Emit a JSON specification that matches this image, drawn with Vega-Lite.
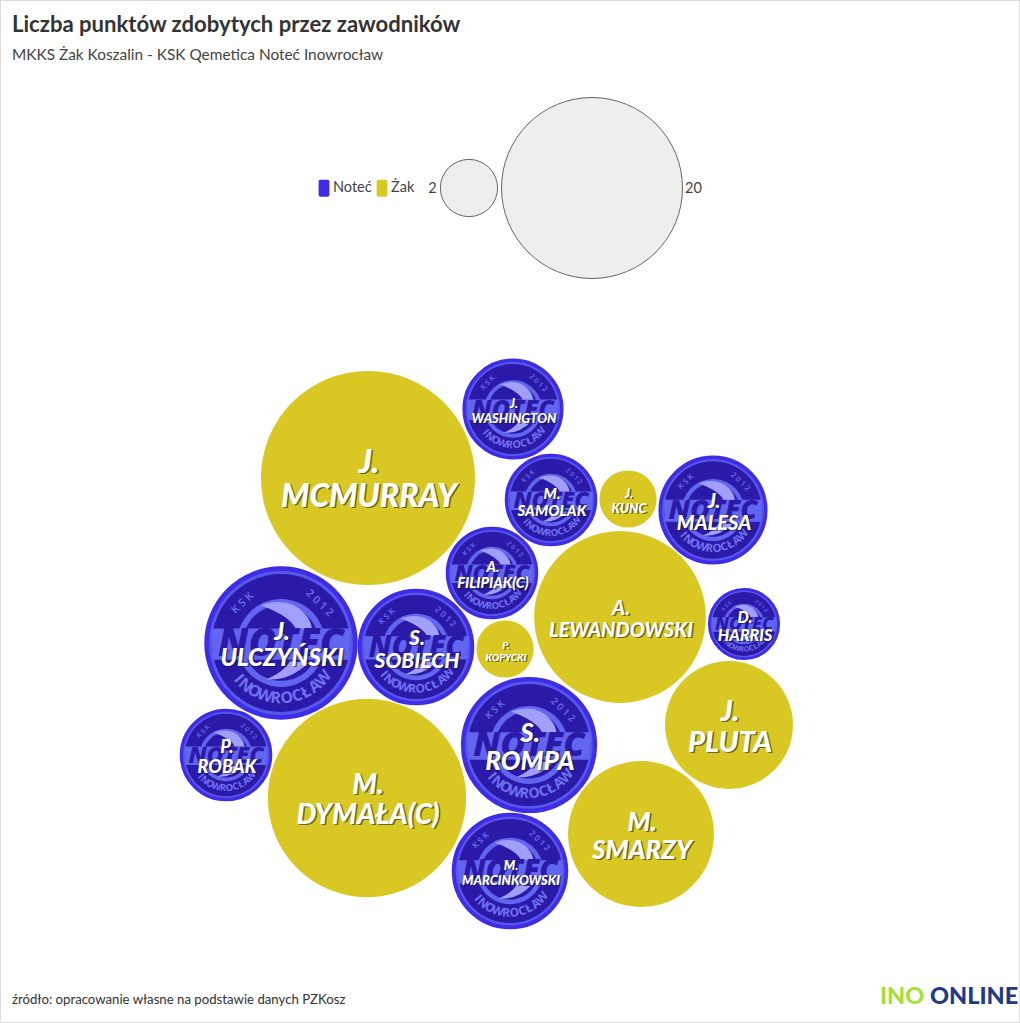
{"$schema":"https://vega.github.io/schema/vega-lite/v6.json","width":1020,"height":1023,"padding":0,"autosize":{"type":"none"},"background":"white","config":{"view":{"stroke":"#dcdcdc","strokeWidth":2},"font":"Lato"},
"title":{"text":"Liczba punktów zdobytych przez zawodników","subtitle":"MKKS Żak Koszalin - KSK Qemetica Noteć Inowrocław","anchor":"start","frame":"group","dx":12,"offset":-64,"font":"Lato","fontSize":22.1,"fontWeight":"bold","color":"#333333","subtitleFont":"Lato","subtitleFontSize":15.4,"subtitleColor":"#444444","subtitlePadding":11},
"datasets":{"players":[
{"name":"J.\nMCMURRAY","team":"Żak","points":28,"x":368,"y":478},
{"name":"A.\nLEWANDOWSKI","team":"Żak","points":18,"x":620,"y":617},
{"name":"M.\nDYMAŁA(C)","team":"Żak","points":24,"x":367,"y":798},
{"name":"M.\nSMARZY","team":"Żak","points":13,"x":641,"y":834},
{"name":"J.\nPLUTA","team":"Żak","points":10,"x":729,"y":725},
{"name":"J.\nKUNC","team":"Żak","points":2,"x":628,"y":499},
{"name":"P.\nKOPYCKI","team":"Żak","points":2,"x":505,"y":649},
{"name":"J.\nWASHINGTON","team":"Noteć","points":6,"x":513,"y":409},
{"name":"M.\nSAMOLAK","team":"Noteć","points":5,"x":551,"y":500},
{"name":"J.\nMALESA","team":"Noteć","points":7,"x":713,"y":510},
{"name":"A.\nFILIPIAK(C)","team":"Noteć","points":5,"x":492,"y":573},
{"name":"D.\nHARRIS","team":"Noteć","points":3,"x":744,"y":624},
{"name":"J.\nULCZYŃSKI","team":"Noteć","points":14,"x":281,"y":643},
{"name":"S.\nSOBIECH","team":"Noteć","points":8,"x":416,"y":647},
{"name":"P.\nROBAK","team":"Noteć","points":5,"x":226,"y":755},
{"name":"S.\nROMPA","team":"Noteć","points":11,"x":529,"y":745},
{"name":"M.\nMARCINKOWSKI","team":"Noteć","points":8,"x":510,"y":871}],
"sizeKey":[{"value":2,"x":469,"y":188,"labelX":432.5},{"value":20,"x":592,"y":188,"labelX":693.5}],
"notes":[{"text":"źródło: opracowanie własne na podstawie danych PZKosz","x":12,"y":1000}],
"brand":[{"text":"INO","x":880,"y":997},{"text":"ONLINE","x":930,"y":997}]},
"data":{"name":"players"},
"encoding":{"x":{"field":"x","type":"quantitative","scale":{"domain":[0,1020],"nice":false,"zero":false},"axis":null},"y":{"field":"y","type":"quantitative","scale":{"domain":[1023,0],"nice":false,"zero":false},"axis":null}},
"layer":[
{"transform":[{"filter":"datum.team==='Noteć'"}],"mark":{"type":"point","shape":"circle","filled":true,"opacity":1,"fill":"#3f2ce6","stroke":"#3f2ce6","strokeWidth":2},"encoding":{"size":{"field":"points","type":"quantitative","legend":null,"scale":{"domain":[0,20],"range":[0,32761]}}}},
{"mark":{"type":"point","shape":"circle","filled":true,"opacity":1},"encoding":{"size":{"field":"points","type":"quantitative","legend":null,"scale":{"domain":[0,20],"range":[0,32761]}},"color":{"field":"team","type":"nominal","scale":{"domain":["Noteć","Żak"],"range":["#3f2ce6","#d9c823"]},"legend":{"orient":"none","legendX":315,"legendY":179,"direction":"horizontal","columns":2,"title":null,"symbolType":"M-.6,-.75Q-.6,-.95 -.4,-.95L.4,-.95Q.6,-.95 .6,-.75L.6,.75Q.6,.95 .4,.95L-.4,.95Q-.6,.95 -.6,.75Z","symbolSize":324,"symbolStrokeWidth":0,"labelFont":"Lato","labelFontSize":14.5,"labelColor":"#444444","labelOffset":0,"columnPadding":1,"padding":0}}}},
{"transform":[{"filter":"datum.team==='Noteć'"}],"mark":{"type":"point","filled":true,"opacity":1,"fill":"#5558ea","shape":"M-.95,0C-.95,-.525 -.525,-.95 0,-.95C.525,-.95 .95,-.525 .95,0C.95,.525 .525,.95 0,.95C-.525,.95 -.95,.525 -.95,0Z"},"encoding":{"size":{"field":"points","type":"quantitative","legend":null,"scale":{"domain":[0,20],"range":[0,32761]}}}},
{"transform":[{"filter":"datum.team==='Noteć'"}],"mark":{"type":"point","filled":true,"opacity":1,"fill":"#2b1aa8","shape":"M-.91,0C-.91,-.503 -.503,-.91 0,-.91C.503,-.91 .91,-.503 .91,0C.91,.503 .503,.91 0,.91C-.503,.91 -.91,.503 -.91,0Z"},"encoding":{"size":{"field":"points","type":"quantitative","legend":null,"scale":{"domain":[0,20],"range":[0,32761]}}}},
{"transform":[{"filter":"datum.team==='Noteć'"}],"mark":{"type":"point","filled":true,"opacity":1,"fill":"#6265f0","shape":"M-.58,0C-.58,-.32 -.32,-.58 0,-.58C.32,-.58 .58,-.32 .58,0C.58,.32 .32,.58 0,.58C-.32,.58 -.58,.32 -.58,0Z"},"encoding":{"size":{"field":"points","type":"quantitative","legend":null,"scale":{"domain":[0,20],"range":[0,32761]}}}},
{"transform":[{"filter":"datum.team==='Noteć'"}],"mark":{"type":"point","filled":true,"opacity":1,"fill":"#2b1aa8","shape":"M-.5,0C-.5,-.276 -.276,-.5 0,-.5C.276,-.5 .5,-.276 .5,0C.5,.276 .276,.5 0,.5C-.276,.5 -.5,.276 -.5,0Z"},"encoding":{"size":{"field":"points","type":"quantitative","legend":null,"scale":{"domain":[0,20],"range":[0,32761]}}}},
{"transform":[{"filter":"datum.team==='Noteć'"}],"mark":{"type":"point","filled":true,"opacity":1,"fill":"#a0a0fa","shape":"M-.27,-.5Q.1,-.62 .3,-.4Q.4,-.3 .41,-.18L.2,-.18Q.12,-.36 -.27,-.5ZM-.19,.48Q.12,.5 .36,.26L.12,.24Q.04,.38 -.19,.48Z"},"encoding":{"size":{"field":"points","type":"quantitative","legend":null,"scale":{"domain":[0,20],"range":[0,32761]}}}},
{"transform":[{"filter":"datum.team==='Noteć'"}],"mark":{"type":"point","filled":true,"opacity":1,"fill":"#6265f0","shape":"M-.92,-.19L.92,-.19L.9,.22L-.9,.22Z"},"encoding":{"size":{"field":"points","type":"quantitative","legend":null,"scale":{"domain":[0,20],"range":[0,32761]}}}},
{"transform":[{"filter":"datum.team==='Noteć'"}],"mark":{"type":"text","text":"NOTEĆ","font":"Open Sans","fontWeight":800,"fontStyle":"italic","color":"#2b1aa8","align":"center","baseline":"middle","dy":1},"encoding":{"size":{"field":"points","type":"quantitative","legend":null,"scale":{"type":"sqrt","domain":[0,20],"range":[0,46]}}}},
{"transform":[{"filter":"datum.team==='Noteć'"}],"mark":{"type":"text","text":"I","angle":50,"font":"Open Sans","fontWeight":700,"color":"#6f71ee","align":"center","baseline":"middle"},"encoding":{"size":{"field":"points","type":"quantitative","legend":null,"scale":{"type":"sqrt","domain":[0,20],"range":[0,19]}},"radius":{"field":"points","type":"quantitative","scale":{"type":"sqrt","domain":[0,20],"range":[0,66]}},"theta":{"value":4.014}}},
{"transform":[{"filter":"datum.team==='Noteć'"}],"mark":{"type":"text","text":"N","angle":40,"font":"Open Sans","fontWeight":700,"color":"#6f71ee","align":"center","baseline":"middle"},"encoding":{"size":{"field":"points","type":"quantitative","legend":null,"scale":{"type":"sqrt","domain":[0,20],"range":[0,19]}},"radius":{"field":"points","type":"quantitative","scale":{"type":"sqrt","domain":[0,20],"range":[0,66]}},"theta":{"value":3.84}}},
{"transform":[{"filter":"datum.team==='Noteć'"}],"mark":{"type":"text","text":"O","angle":29,"font":"Open Sans","fontWeight":700,"color":"#6f71ee","align":"center","baseline":"middle"},"encoding":{"size":{"field":"points","type":"quantitative","legend":null,"scale":{"type":"sqrt","domain":[0,20],"range":[0,19]}},"radius":{"field":"points","type":"quantitative","scale":{"type":"sqrt","domain":[0,20],"range":[0,66]}},"theta":{"value":3.648}}},
{"transform":[{"filter":"datum.team==='Noteć'"}],"mark":{"type":"text","text":"W","angle":17,"font":"Open Sans","fontWeight":700,"color":"#6f71ee","align":"center","baseline":"middle"},"encoding":{"size":{"field":"points","type":"quantitative","legend":null,"scale":{"type":"sqrt","domain":[0,20],"range":[0,19]}},"radius":{"field":"points","type":"quantitative","scale":{"type":"sqrt","domain":[0,20],"range":[0,66]}},"theta":{"value":3.439}}},
{"transform":[{"filter":"datum.team==='Noteć'"}],"mark":{"type":"text","text":"R","angle":5.5,"font":"Open Sans","fontWeight":700,"color":"#6f71ee","align":"center","baseline":"middle"},"encoding":{"size":{"field":"points","type":"quantitative","legend":null,"scale":{"type":"sqrt","domain":[0,20],"range":[0,19]}},"radius":{"field":"points","type":"quantitative","scale":{"type":"sqrt","domain":[0,20],"range":[0,66]}},"theta":{"value":3.238}}},
{"transform":[{"filter":"datum.team==='Noteć'"}],"mark":{"type":"text","text":"O","angle":354,"font":"Open Sans","fontWeight":700,"color":"#6f71ee","align":"center","baseline":"middle"},"encoding":{"size":{"field":"points","type":"quantitative","legend":null,"scale":{"type":"sqrt","domain":[0,20],"range":[0,19]}},"radius":{"field":"points","type":"quantitative","scale":{"type":"sqrt","domain":[0,20],"range":[0,66]}},"theta":{"value":3.037}}},
{"transform":[{"filter":"datum.team==='Noteć'"}],"mark":{"type":"text","text":"C","angle":343,"font":"Open Sans","fontWeight":700,"color":"#6f71ee","align":"center","baseline":"middle"},"encoding":{"size":{"field":"points","type":"quantitative","legend":null,"scale":{"type":"sqrt","domain":[0,20],"range":[0,19]}},"radius":{"field":"points","type":"quantitative","scale":{"type":"sqrt","domain":[0,20],"range":[0,66]}},"theta":{"value":2.845}}},
{"transform":[{"filter":"datum.team==='Noteć'"}],"mark":{"type":"text","text":"Ł","angle":333,"font":"Open Sans","fontWeight":700,"color":"#6f71ee","align":"center","baseline":"middle"},"encoding":{"size":{"field":"points","type":"quantitative","legend":null,"scale":{"type":"sqrt","domain":[0,20],"range":[0,19]}},"radius":{"field":"points","type":"quantitative","scale":{"type":"sqrt","domain":[0,20],"range":[0,66]}},"theta":{"value":2.67}}},
{"transform":[{"filter":"datum.team==='Noteć'"}],"mark":{"type":"text","text":"A","angle":322,"font":"Open Sans","fontWeight":700,"color":"#6f71ee","align":"center","baseline":"middle"},"encoding":{"size":{"field":"points","type":"quantitative","legend":null,"scale":{"type":"sqrt","domain":[0,20],"range":[0,19]}},"radius":{"field":"points","type":"quantitative","scale":{"type":"sqrt","domain":[0,20],"range":[0,66]}},"theta":{"value":2.478}}},
{"transform":[{"filter":"datum.team==='Noteć'"}],"mark":{"type":"text","text":"W","angle":310,"font":"Open Sans","fontWeight":700,"color":"#6f71ee","align":"center","baseline":"middle"},"encoding":{"size":{"field":"points","type":"quantitative","legend":null,"scale":{"type":"sqrt","domain":[0,20],"range":[0,19]}},"radius":{"field":"points","type":"quantitative","scale":{"type":"sqrt","domain":[0,20],"range":[0,66]}},"theta":{"value":2.269}}},
{"transform":[{"filter":"datum.team==='Noteć'"}],"mark":{"type":"text","text":"K S K","angle":316,"font":"Open Sans","fontWeight":600,"color":"#6a6cf0","align":"center","baseline":"middle"},"encoding":{"size":{"field":"points","type":"quantitative","legend":null,"scale":{"type":"sqrt","domain":[0,20],"range":[0,13]}},"radius":{"field":"points","type":"quantitative","scale":{"type":"sqrt","domain":[0,20],"range":[0,66]}},"theta":{"value":5.515}}},
{"transform":[{"filter":"datum.team==='Noteć'"}],"mark":{"type":"text","text":"2 0 1 2","angle":44,"font":"Open Sans","fontWeight":600,"color":"#6a6cf0","align":"center","baseline":"middle"},"encoding":{"size":{"field":"points","type":"quantitative","legend":null,"scale":{"type":"sqrt","domain":[0,20],"range":[0,13]}},"radius":{"field":"points","type":"quantitative","scale":{"type":"sqrt","domain":[0,20],"range":[0,66]}},"theta":{"value":0.768}}},
{"mark":{"type":"text","font":"Lato","fontWeight":900,"fontStyle":"italic","color":"#111111","opacity":0.55,"align":"center","baseline":"bottom","lineBreak":"\n","dx":2.5,"dy":3},"encoding":{"text":{"field":"name"},"size":{"field":"name","type":"nominal","legend":null,"scale":{"type":"ordinal","domain":["J.\nMCMURRAY","A.\nLEWANDOWSKI","M.\nDYMAŁA(C)","M.\nSMARZY","J.\nPLUTA","J.\nKUNC","P.\nKOPYCKI","J.\nWASHINGTON","M.\nSAMOLAK","J.\nMALESA","A.\nFILIPIAK(C)","D.\nHARRIS","J.\nULCZYŃSKI","S.\nSOBIECH","P.\nROBAK","S.\nROMPA","M.\nMARCINKOWSKI"],"range":[32,20,28,26,29,13,10,13,15,20,14.5,16,24,21,18,26,13]}}}},
{"mark":{"type":"text","font":"Lato","fontWeight":900,"fontStyle":"italic","color":"white","align":"center","baseline":"bottom","lineBreak":"\n","dx":1,"dy":1.5},"encoding":{"text":{"field":"name"},"size":{"field":"name","type":"nominal","legend":null,"scale":{"type":"ordinal","domain":["J.\nMCMURRAY","A.\nLEWANDOWSKI","M.\nDYMAŁA(C)","M.\nSMARZY","J.\nPLUTA","J.\nKUNC","P.\nKOPYCKI","J.\nWASHINGTON","M.\nSAMOLAK","J.\nMALESA","A.\nFILIPIAK(C)","D.\nHARRIS","J.\nULCZYŃSKI","S.\nSOBIECH","P.\nROBAK","S.\nROMPA","M.\nMARCINKOWSKI"],"range":[32,20,28,26,29,13,10,13,15,20,14.5,16,24,21,18,26,13]}}}},
{"data":{"name":"sizeKey"},"mark":{"type":"point","shape":"circle","filled":true,"opacity":1,"fill":"#eeeeee","stroke":"#666666","strokeWidth":1},"encoding":{"size":{"field":"value","type":"quantitative","legend":null,"scale":{"domain":[0,20],"range":[0,32761]}}}},
{"data":{"name":"sizeKey"},"mark":{"type":"text","font":"Lato","fontSize":14.5,"color":"#444444","align":"center","baseline":"middle","dy":1},"encoding":{"x":{"field":"labelX","type":"quantitative"},"text":{"field":"value"}}},
{"data":{"name":"notes"},"mark":{"type":"text","font":"Lato","fontSize":13.2,"color":"#333333","align":"left","baseline":"middle"},"encoding":{"text":{"field":"text"}}},
{"data":{"name":"brand"},"mark":{"type":"text","font":"Lato","fontWeight":900,"fontSize":23.5,"align":"left","baseline":"middle"},"encoding":{"text":{"field":"text"},"color":{"condition":{"test":"datum.text==='INO'","value":"#a6e03c"},"value":"#1f3a8a"}}}
],
"resolve":{"scale":{"size":"independent"}}}
